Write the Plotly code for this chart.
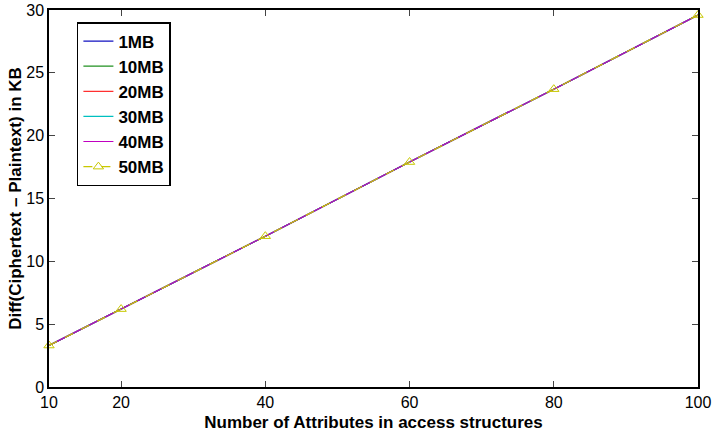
import plotly.graph_objects as go

attributes = [10, 20, 40, 60, 80, 100]
series_names = ["1MB", "10MB", "20MB", "30MB", "40MB", "50MB"]
diff_1mb = [3.3, 6.2, 12.0, 17.9, 23.7, 29.6]
diff_10mb = [3.3, 6.2, 12.0, 17.9, 23.7, 29.6]
diff_20mb = [3.3, 6.2, 12.0, 17.9, 23.7, 29.6]
diff_30mb = [3.3, 6.2, 12.0, 17.9, 23.7, 29.6]
diff_40mb = [3.3, 6.2, 12.0, 17.9, 23.7, 29.6]
diff_50mb = [3.3, 6.2, 12.0, 17.9, 23.7, 29.6]
x_ticks = [10, 20, 40, 60, 80, 100]
y_ticks = [0, 5, 10, 15, 20, 25, 30]

colors = ["#1010c0", "#209020", "#ff3030", "#00c0c0", "#c000c0", "#c8c800"]
values = [diff_1mb, diff_10mb, diff_20mb, diff_30mb, diff_40mb, diff_50mb]

fig = go.Figure()
for name, vals, col in zip(series_names, values, colors):
    if name == "50MB":
        fig.add_trace(go.Scatter(
            x=attributes, y=vals, name="<b>" + name + "</b>", mode="lines+markers",
            line=dict(color=col, width=1.2, dash="dash"),
            marker=dict(symbol="triangle-up-open", size=9, color=col, line=dict(width=1, color=col)),
            cliponaxis=False,
        ))
    else:
        fig.add_trace(go.Scatter(
            x=attributes, y=vals, name="<b>" + name + "</b>", mode="lines",
            line=dict(color=col, width=1.2),
        ))

fig.update_layout(
    width=713, height=434,
    margin=dict(l=49, r=15, t=10, b=47),
    plot_bgcolor="white", paper_bgcolor="white",
    font=dict(family="Liberation Sans, Arial, sans-serif", size=16, color="black"),
    xaxis=dict(
        range=[10, 100], tickvals=x_ticks, ticks="inside", ticklen=6,
        showline=True, linecolor="black", linewidth=1.5, mirror="ticks",
        showgrid=False, zeroline=False, automargin=False,
        tickfont=dict(size=16), ticklabeloverflow="allow",
        title=dict(text="<b>Number of Attributes in access structures</b>", font=dict(size=17), standoff=6),
    ),
    yaxis=dict(
        range=[0, 30], tickvals=y_ticks, ticks="inside", ticklen=6,
        showline=True, linecolor="black", linewidth=1.5, mirror="ticks",
        showgrid=False, zeroline=False, automargin=False,
        tickfont=dict(size=16), ticklabeloverflow="allow",
        title=dict(text="<b>Diff(Ciphertext – Plaintext) in KB</b>", font=dict(size=17), standoff=0),
    ),
    legend=dict(
        x=0.043, y=0.968, xanchor="left", yanchor="top",
        bordercolor="black", borderwidth=1.5, bgcolor="white",
        font=dict(size=17, family="Liberation Sans, Arial, sans-serif"),
        tracegroupgap=0,
    ),
    showlegend=True,
)

fig.write_html("out.html")
